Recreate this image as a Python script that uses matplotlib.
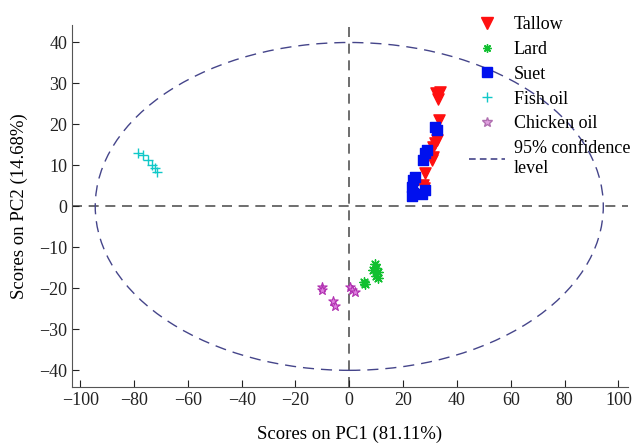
import matplotlib
matplotlib.use("Agg")
import matplotlib.pyplot as plt
from matplotlib.patches import Ellipse
from matplotlib.lines import Line2D

plt.rcParams["font.family"] = ["Liberation Serif", "DejaVu Serif"]

# PCA scores
tallow_x = [32.1, 33.6, 32.9, 33.3, 32.5, 31.7, 31.0, 31.0, 30.6, 28.0, 27.3, 27.6]
tallow_y = [27.7, 27.9, 26.2, 21.1, 16.3, 15.5, 14.5, 12.1, 11.4, 8.2, 5.3, 4.6]

lard_x = [9.5, 10.0, 9.0, 10.5, 9.8, 10.5, 5.5, 6.0]
lard_y = [-14.0, -15.0, -15.5, -16.0, -17.0, -17.5, -18.5, -19.0]

suet_x = [31.7, 32.5, 28.8, 28.0, 27.3, 24.3, 23.6, 23.2, 23.6, 28.0, 23.2, 27.0]
suet_y = [19.4, 18.7, 13.8, 13.1, 11.4, 7.2, 6.5, 4.8, 3.3, 4.1, 2.5, 3.0]

fish_x = [-78.6, -76.7, -74.9, -73.4, -72.3, -71.6]
fish_y = [13.1, 12.6, 11.4, 10.2, 9.4, 8.5]

chicken_x = [-10.3, -10.3, -6.2, -5.4, 0.1, 0.9, 2.0]
chicken_y = [-19.6, -20.3, -23.2, -24.4, -19.6, -20.3, -21.0]

ellipse_a = 94.4
ellipse_b = 40.0

fig = plt.figure(figsize=(6.38, 4.44), dpi=100)
ax = fig.add_axes([0.113, 0.129, 0.871, 0.815])

ax.axhline(0, color="#555555", lw=1.2, ls=(0, (6, 4)), zorder=1)
ax.axvline(0, color="#555555", lw=1.2, ls=(0, (6, 4)), zorder=1)
ax.add_patch(Ellipse((0, 0), 2 * ellipse_a, 2 * ellipse_b, fill=False,
                     ec="#45458a", lw=1.0, ls=(0, (8, 5)), zorder=1))

ax.scatter(tallow_x, tallow_y, marker="v", s=65, c="#ff1010", zorder=3)
ax.scatter(lard_x, lard_y, marker=(8, 2, 0), s=45, c="#10c030", lw=1.0, zorder=3)
ax.scatter(suet_x, suet_y, marker="s", s=50, c="#0010ee", zorder=3)
ax.scatter(fish_x, fish_y, marker="+", s=45, c="#10c8c8", lw=1.0, zorder=3)
ax.scatter(chicken_x, chicken_y, marker="*", s=50, facecolors="#e080e0",
           edgecolors="#b030b0", lw=0.8, zorder=3)

ax.set_xlim(-103, 103.5)
ax.set_ylim(-44, 44.3)
ax.set_xticks(range(-100, 101, 20))
ax.set_yticks(range(-40, 41, 10))
ax.tick_params(direction="in", length=5, labelsize=13, colors="#222222")
for side in ["top", "right"]:
    ax.spines[side].set_visible(False)
ax.spines["left"].set_color("#555555")
ax.spines["bottom"].set_color("#555555")

ax.set_xlabel("Scores on PC1 (81.11%)", fontsize=13.5, labelpad=12)
ax.set_ylabel("Scores on PC2 (14.68%)", fontsize=13.5, labelpad=8)

handles = [
    Line2D([], [], ls="none", marker="v", ms=8, color="#ff1010"),
    Line2D([], [], ls="none", marker=(8, 2, 0), ms=6, color="#10c030"),
    Line2D([], [], ls="none", marker="s", ms=7, color="#0010ee"),
    Line2D([], [], ls="none", marker="+", ms=7, color="#10c8c8"),
    Line2D([], [], ls="none", marker="*", ms=7, mfc="#e0a0e0", mec="#b070b0"),
    Line2D([], [], color="#45458a", lw=1.2, ls=(0, (4, 2.5))),
]
labels = ["Tallow", "Lard", "Suet", "Fish oil", "Chicken oil", "95% confidence\nlevel"]
leg = fig.legend(handles, labels, loc="upper left", bbox_to_anchor=(0.709, 1.0),
                 frameon=False, fontsize=13, labelspacing=0.43, handlelength=2.0,
                 handletextpad=0.5)

fig.savefig("out.png", dpi=100)
